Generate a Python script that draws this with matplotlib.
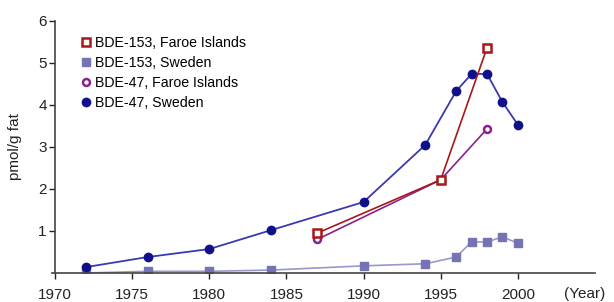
import matplotlib
matplotlib.use("Agg")
import matplotlib.pyplot as plt

# Data
years_47_se = [1972, 1976, 1980, 1984, 1990, 1994, 1996, 1997, 1998, 1999, 2000]
vals_47_se = [0.14, 0.38, 0.57, 1.02, 1.69, 3.05, 4.33, 4.74, 4.74, 4.07, 3.53]

years_153_se = [1972, 1976, 1980, 1984, 1990, 1994, 1996, 1997, 1998, 1999, 2000]
vals_153_se = [0.0, 0.04, 0.04, 0.07, 0.17, 0.22, 0.38, 0.74, 0.74, 0.86, 0.71]

years_153_fo = [1987, 1995, 1998]
vals_153_fo = [0.95, 2.22, 5.36]

years_47_fo = [1987, 1995, 1998]
vals_47_fo = [0.80, 2.22, 3.43]

xticks = [1970, 1975, 1980, 1985, 1990, 1995, 2000]
yticks = [1, 2, 3, 4, 5, 6]

plt.rcParams['font.family'] = ['Liberation Sans', 'DejaVu Sans']

fig = plt.figure(figsize=(6.14, 3.02), dpi=100)
ax = fig.add_axes([55/614, 1 - 273/302, (595-55)/614, (273-21)/302])

c_47_se_line = '#3a3ab0'
c_47_se_mk = '#10108a'
c_153_se = '#7474b4'
c_153_se_line = '#9898cc'
c_153_fo = '#a81818'
c_47_fo = '#8a2090'

ax.plot(years_153_se, vals_153_se, color=c_153_se_line, lw=1.2, marker='s', ms=5.5,
        mfc=c_153_se, mec=c_153_se, label='BDE-153, Sweden', zorder=2)
ax.plot(years_47_se, vals_47_se, color=c_47_se_line, lw=1.3, marker='o', ms=6,
        mfc=c_47_se_mk, mec=c_47_se_mk, label='BDE-47, Sweden', zorder=3)
ax.plot(years_47_fo, vals_47_fo, color=c_47_fo, lw=1.2, marker='o', ms=5,
        mfc='white', mec=c_47_fo, mew=1.8, label='BDE-47, Faroe Islands', zorder=4)
ax.plot(years_153_fo, vals_153_fo, color=c_153_fo, lw=1.2, marker='s', ms=5.5,
        mfc='white', mec=c_153_fo, mew=1.8, label='BDE-153, Faroe Islands', zorder=5)

ax.set_xlim(1970, 2005)
ax.set_ylim(0, 6)
ax.set_xticks(xticks)
ax.set_yticks(yticks)
ax.tick_params(axis='both', labelsize=11, colors='#222222', length=4, width=1)
ax.tick_params(axis='x', pad=7)
ax.tick_params(axis='y', pad=2)
for s in ['top', 'right']:
    ax.spines[s].set_visible(False)
for s in ['left', 'bottom']:
    ax.spines[s].set_color('#444444')
    ax.spines[s].set_linewidth(1.2)
ax.spines['bottom'].set_bounds(1969.8, 2005)

fig.text(564/614, 1 - 294/302, '(Year)', fontsize=11, color='#222222', ha='left', va='center')
ax.set_ylabel('pmol/g fat', fontsize=11, color='#222222', labelpad=12)

h, l = ax.get_legend_handles_labels()
order = ['BDE-153, Faroe Islands', 'BDE-153, Sweden', 'BDE-47, Faroe Islands', 'BDE-47, Sweden']
hh = [h[l.index(o)] for o in order]
leg = ax.legend(hh, order, loc='upper left', bbox_to_anchor=(0.025, 0.99), frameon=False,
                fontsize=10.2, handlelength=0.6, handletextpad=0.4, labelspacing=0.42)
for lh in leg.legend_handles:
    lh.set_linestyle('None')

fig.savefig('out.png', dpi=100)
